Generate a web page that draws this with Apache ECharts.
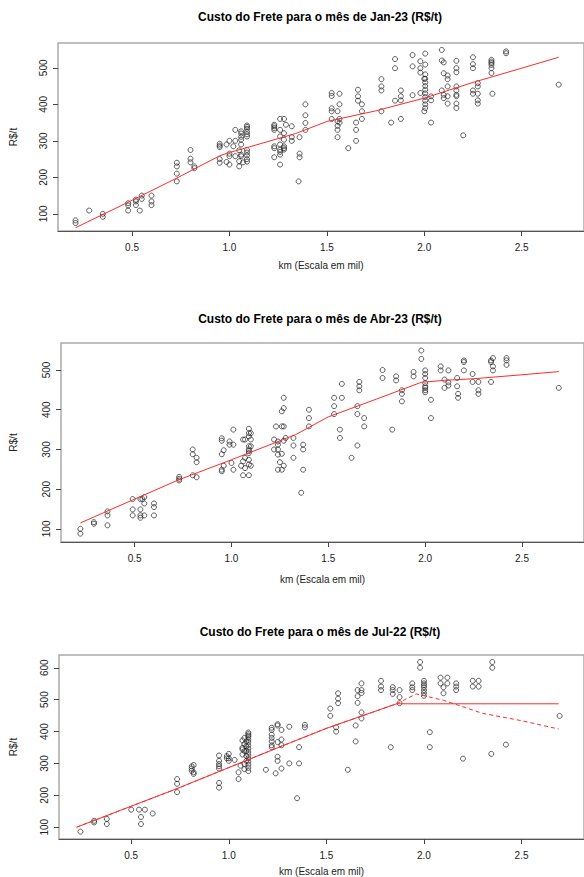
<!DOCTYPE html>
<html>
<head>
<meta charset="utf-8">
<script src="https://cdn.jsdelivr.net/npm/echarts@6/dist/echarts.min.js"></script>
<style>
  html, body { margin: 0; padding: 0; background: #fff; }
  #chart { width: 584px; height: 877px; }
</style>
</head>
<body>
<div id="chart"></div>
<script>
// Values: [km (thousands), R$/t]
const janPoints = [
  [0.21, 82], [0.21, 75], [0.28, 109], [0.35, 100], [0.35, 92],
  [0.48, 129], [0.48, 123], [0.48, 109], [0.52, 139], [0.52, 134], [0.52, 124], [0.54, 109],
  [0.55, 150], [0.55, 141], [0.60, 150], [0.60, 134], [0.60, 124],
  [0.73, 240], [0.73, 230], [0.73, 210], [0.73, 189], [0.80, 275], [0.80, 251], [0.80, 241],
  [0.82, 230], [0.82, 225],
  [0.95, 292], [0.95, 287], [0.95, 283], [0.95, 250], [0.95, 240], [0.985, 290], [0.985, 242],
  [1.0, 300], [1.0, 265], [1.0, 258], [1.0, 235], [1.02, 285], [1.03, 330], [1.03, 300], [1.03, 258],
  [1.05, 230], [1.05, 244], [1.05, 274], [1.06, 290], [1.06, 262], [1.06, 258], [1.06, 326],
  [1.06, 320], [1.06, 311], [1.06, 303], [1.07, 241],
  [1.09, 342], [1.09, 338], [1.09, 333], [1.09, 325], [1.09, 318], [1.09, 312], [1.09, 275],
  [1.09, 268], [1.09, 260], [1.09, 250], [1.09, 243],
  [1.23, 344], [1.23, 340], [1.23, 285], [1.23, 280], [1.23, 255], [1.23, 335], [1.23, 330],
  [1.26, 360], [1.26, 330], [1.26, 312], [1.26, 290], [1.26, 276], [1.26, 262], [1.26, 235], [1.26, 270],
  [1.28, 360], [1.28, 321], [1.28, 303], [1.28, 285], [1.28, 276], [1.28, 280], [1.29, 344],
  [1.32, 340], [1.32, 310], [1.32, 300], [1.355, 189], [1.36, 310], [1.36, 265], [1.36, 255],
  [1.39, 400], [1.39, 370], [1.39, 349], [1.39, 330],
  [1.525, 431], [1.525, 423], [1.525, 389], [1.525, 381], [1.525, 360],
  [1.555, 381], [1.555, 353], [1.555, 341], [1.555, 330], [1.555, 310],
  [1.565, 429], [1.565, 400], [1.565, 360], [1.565, 350], [1.61, 280],
  [1.65, 330], [1.65, 300], [1.65, 350], [1.66, 440], [1.66, 422], [1.66, 410],
  [1.68, 400], [1.68, 381], [1.68, 360], [1.78, 469], [1.78, 449], [1.78, 438], [1.78, 381],
  [1.83, 350], [1.85, 524], [1.85, 499], [1.85, 410], [1.88, 438], [1.88, 422], [1.88, 411], [1.88, 360],
  [1.94, 535], [1.94, 504], [1.94, 425], [1.98, 518], [1.98, 499], [1.98, 487], [1.98, 431],
  [2.0, 470], [2.0, 381], [2.005, 539], [2.005, 509], [2.005, 482], [2.005, 470], [2.005, 460],
  [2.005, 450], [2.005, 440], [2.005, 430], [2.005, 420], [2.005, 410], [2.005, 400], [2.005, 390],
  [2.035, 422], [2.035, 411], [2.035, 350], [2.09, 549], [2.09, 520], [2.09, 438],
  [2.10, 515], [2.10, 485], [2.10, 426], [2.10, 417],
  [2.12, 479], [2.12, 469], [2.12, 449], [2.12, 422], [2.12, 402],
  [2.165, 519], [2.165, 499], [2.165, 488], [2.165, 449], [2.165, 438], [2.165, 426], [2.165, 422],
  [2.165, 402], [2.165, 390], [2.20, 315],
  [2.25, 529], [2.25, 510], [2.25, 499], [2.25, 438], [2.25, 429],
  [2.275, 458], [2.275, 449], [2.275, 429], [2.275, 411], [2.275, 402],
  [2.345, 522], [2.345, 517], [2.345, 513], [2.345, 508], [2.345, 499], [2.345, 486], [2.35, 429],
  [2.42, 545], [2.42, 540], [2.69, 454]
];

const abrPoints = [
  [0.22, 100], [0.22, 88], [0.29, 117], [0.29, 113], [0.36, 144], [0.36, 134], [0.36, 109],
  [0.49, 175], [0.49, 149], [0.49, 134], [0.53, 175], [0.53, 149], [0.53, 134], [0.53, 128],
  [0.54, 175], [0.55, 180], [0.55, 164], [0.55, 134], [0.60, 164], [0.60, 155], [0.60, 134],
  [0.73, 231], [0.73, 226], [0.73, 222], [0.80, 300], [0.80, 288], [0.80, 235],
  [0.82, 279], [0.82, 268], [0.82, 230],
  [0.95, 328], [0.95, 322], [0.95, 288], [0.95, 249], [0.95, 245], [0.96, 298], [0.96, 259],
  [0.99, 320], [0.99, 312], [1.0, 266], [1.01, 350], [1.01, 312], [1.01, 249], [1.05, 259],
  [1.06, 325], [1.06, 270], [1.06, 235], [1.07, 325], [1.07, 279], [1.07, 253],
  [1.09, 352], [1.09, 341], [1.09, 333], [1.09, 308], [1.09, 300], [1.09, 296], [1.09, 291],
  [1.09, 274], [1.09, 262], [1.09, 235], [1.10, 341], [1.10, 325], [1.10, 308], [1.10, 259],
  [1.22, 325], [1.22, 300], [1.23, 358], [1.24, 320], [1.24, 312], [1.24, 300], [1.24, 287], [1.24, 249],
  [1.25, 268], [1.26, 396], [1.26, 358], [1.26, 289], [1.26, 249],
  [1.27, 430], [1.27, 404], [1.27, 358], [1.27, 322], [1.27, 259], [1.28, 329],
  [1.32, 329], [1.32, 310], [1.32, 279], [1.36, 191], [1.37, 312], [1.37, 300], [1.37, 249],
  [1.40, 400], [1.40, 379], [1.40, 358], [1.53, 430], [1.53, 409], [1.53, 389],
  [1.56, 350], [1.56, 329], [1.57, 465], [1.57, 430], [1.62, 279],
  [1.65, 409], [1.65, 389], [1.65, 310], [1.66, 470], [1.66, 459], [1.66, 449],
  [1.685, 379], [1.685, 358], [1.78, 500], [1.78, 480], [1.83, 350], [1.85, 484], [1.85, 474],
  [1.88, 449], [1.88, 440], [1.88, 421], [1.94, 495], [1.94, 484], [1.98, 549], [1.98, 528],
  [2.0, 480], [2.0, 449], [2.0, 499], [2.0, 490], [2.0, 467], [2.0, 459], [2.0, 455], [2.0, 444],
  [2.03, 425], [2.03, 379], [2.08, 509], [2.08, 499], [2.10, 476], [2.10, 455],
  [2.12, 499], [2.12, 469], [2.12, 461], [2.165, 480], [2.165, 459], [2.17, 440], [2.17, 430],
  [2.20, 524], [2.20, 520], [2.20, 499], [2.245, 490], [2.245, 470],
  [2.275, 470], [2.275, 449], [2.275, 440], [2.34, 524], [2.34, 520], [2.34, 470],
  [2.35, 530], [2.35, 509], [2.35, 499], [2.42, 530], [2.42, 524], [2.42, 513], [2.69, 455]
];

const julPoints = [
  [0.24, 86], [0.31, 120], [0.31, 115], [0.375, 126], [0.375, 110], [0.50, 155], [0.54, 155],
  [0.55, 132], [0.55, 110], [0.57, 155], [0.61, 143], [0.735, 251], [0.735, 236], [0.735, 210],
  [0.81, 291], [0.81, 284], [0.81, 277], [0.82, 295], [0.82, 272], [0.82, 267],
  [0.95, 239], [0.95, 224], [0.95, 325], [0.95, 308], [0.95, 298], [0.95, 291], [0.95, 284],
  [0.99, 323], [0.99, 316], [1.0, 330], [1.0, 316], [1.0, 308], [1.03, 311], [1.05, 272], [1.05, 251],
  [1.06, 293], [1.07, 372], [1.07, 349], [1.07, 344], [1.07, 328],
  [1.08, 380], [1.08, 361], [1.08, 339], [1.08, 298], [1.08, 282],
  [1.09, 369], [1.09, 354], [1.09, 339], [1.09, 323], [1.09, 308],
  [1.10, 397], [1.10, 392], [1.10, 387], [1.10, 382], [1.10, 374], [1.10, 366], [1.10, 356],
  [1.10, 346], [1.10, 336], [1.10, 326], [1.10, 316], [1.10, 306], [1.10, 296], [1.10, 286], [1.10, 276],
  [1.19, 280], [1.22, 412], [1.22, 405], [1.22, 390], [1.22, 380], [1.22, 369], [1.22, 357], [1.22, 351],
  [1.24, 269], [1.25, 419], [1.25, 423], [1.25, 367], [1.25, 321], [1.25, 308],
  [1.27, 405], [1.27, 375], [1.27, 357], [1.27, 284], [1.31, 415], [1.31, 300], [1.35, 191],
  [1.36, 351], [1.36, 300], [1.39, 421], [1.39, 413], [1.52, 472], [1.52, 449],
  [1.55, 413], [1.55, 400], [1.56, 520], [1.56, 503], [1.56, 489], [1.61, 280],
  [1.65, 419], [1.65, 369], [1.66, 530], [1.66, 511], [1.66, 490],
  [1.68, 551], [1.68, 530], [1.68, 521], [1.68, 460], [1.68, 441],
  [1.78, 559], [1.78, 541], [1.78, 530], [1.83, 351], [1.84, 539], [1.84, 530], [1.84, 518],
  [1.875, 530], [1.875, 508], [1.875, 489], [1.94, 551], [1.94, 539], [1.94, 530],
  [1.98, 618], [1.98, 600], [2.0, 559], [2.0, 551], [2.0, 545], [2.0, 539], [2.0, 530], [2.0, 521], [2.0, 512],
  [2.03, 398], [2.03, 351], [2.085, 569], [2.085, 551], [2.10, 539], [2.10, 520],
  [2.12, 569], [2.12, 551], [2.165, 551], [2.165, 541], [2.165, 530], [2.20, 315],
  [2.25, 559], [2.25, 541], [2.28, 559], [2.28, 541], [2.345, 330], [2.35, 618], [2.35, 600],
  [2.42, 359], [2.695, 449]
];

// fitted curves (red)
const janTrend = [[0.21, 62], [0.5, 137], [0.73, 198], [0.82, 223], [0.95, 259], [1.0, 268], [1.1, 283],
  [1.34, 320], [1.5, 353], [1.75, 382], [2.0, 417], [2.25, 460], [2.5, 499], [2.69, 529]];
const abrTrend = [[0.22, 115], [0.5, 175], [0.73, 224], [1.0, 274], [1.33, 337], [1.5, 382], [1.75, 427],
  [1.98, 469], [2.1, 474], [2.25, 478], [2.5, 488], [2.69, 496]];
const julTrend = [[0.22, 100], [0.735, 221], [1.0, 287], [1.25, 349], [1.5, 410], [1.86, 487], [2.69, 487]];
const julTrendDashed = [[0.22, 100], [0.735, 221], [1.0, 287], [1.25, 349], [1.5, 410], [1.86, 487],
  [1.96, 518], [2.1, 498], [2.3, 457], [2.5, 434], [2.69, 408]];

const xTicks = [0.5, 1.0, 1.5, 2.0, 2.5];
const yTicks500 = [100, 200, 300, 400, 500];
const yTicks600 = [100, 200, 300, 400, 500, 600];
const titles = [
  'Custo do Frete para o mês de Jan-23 (R$/t)',
  'Custo do Frete para o mês de Abr-23 (R$/t)',
  'Custo do Frete para o mês de Jul-22 (R$/t)'
];
const xName = 'km (Escala em mil)';
const yName = 'R$/t';

const FONT = '"Liberation Sans", Arial, sans-serif';

const panels = [
  { grid: { left: 57, top: 43, width: 535, height: 188 }, xRange: [0.12, 2.82], yRange: [53, 568],
    yTicks: yTicks500, titleY: 17, xGap: 29, yGap: 40,
    points: janPoints, lines: [{ data: janTrend }] },
  { grid: { left: 60, top: 343, width: 535, height: 199 }, xRange: [0.12, 2.82], yRange: [67, 568],
    yTicks: yTicks500, titleY: 319, xGap: 32, yGap: 43,
    points: abrPoints, lines: [{ data: abrTrend }] },
  { grid: { left: 54, top: 655, width: 537, height: 188 }, xRange: [0.13, 2.82], yRange: [63, 640],
    yTicks: yTicks600, titleY: 632, xGap: 27, yGap: 41,
    points: julPoints, lines: [{ data: julTrend }, { data: julTrendDashed, dashed: true }] }
];

const chart = echarts.init(document.getElementById('chart'), null, { renderer: 'svg' });

const grids = [], xAxes = [], yAxes = [], series = [], graphics = [];

panels.forEach((p, i) => {
  grids.push(Object.assign({ show: true, borderColor: '#aaa', borderWidth: 1.5 }, p.grid));

  xAxes.push({
    gridIndex: i, type: 'value', min: p.xRange[0], max: p.xRange[1],
    name: xName, nameLocation: 'middle', nameGap: p.xGap,
    nameTextStyle: { fontFamily: FONT, fontSize: 10, color: '#222' },
    axisLine: { show: true, lineStyle: { color: '#555', width: 1 } },
    axisTick: { show: true, length: 5, customValues: xTicks, lineStyle: { color: '#444' } },
    axisLabel: { customValues: xTicks, margin: 11, fontFamily: FONT, fontSize: 10, color: '#222',
      formatter: v => v.toFixed(1) },
    splitLine: { show: false }
  });

  yAxes.push({
    gridIndex: i, type: 'value', min: p.yRange[0], max: p.yRange[1],
    name: yName, nameLocation: 'middle', nameGap: p.yGap, nameRotate: 90,
    nameTextStyle: { fontFamily: FONT, fontSize: 10, color: '#222' },
    axisLine: { show: false },
    axisTick: { show: true, length: 5, customValues: p.yTicks, lineStyle: { color: '#444' } },
    axisLabel: { customValues: p.yTicks, rotate: 90, margin: 10, fontFamily: FONT, fontSize: 10, color: '#222',
      formatter: v => String(v) },
    splitLine: { show: false }
  });

  series.push({
    type: 'scatter', xAxisIndex: i, yAxisIndex: i, data: p.points,
    symbol: 'circle', symbolSize: 5,
    itemStyle: { color: 'rgba(0,0,0,0)', borderColor: '#222', borderWidth: 0.9 },
    silent: true
  });

  p.lines.forEach(l => {
    series.push({
      type: 'line', xAxisIndex: i, yAxisIndex: i, data: l.data,
      symbol: 'none', silent: true,
      lineStyle: { color: '#ff2a2a', width: 1, type: l.dashed ? [4, 3] : 'solid' }
    });
  });

  graphics.push({
    type: 'text', x: 320, y: p.titleY,
    style: { text: titles[i], font: 'bold 12px ' + FONT, fill: '#000', textAlign: 'center', textVerticalAlign: 'middle' }
  });
});

chart.setOption({
  animation: false,
  backgroundColor: '#fff',
  grid: grids,
  xAxis: xAxes,
  yAxis: yAxes,
  series: series,
  graphic: graphics
});
</script>
</body>
</html>
